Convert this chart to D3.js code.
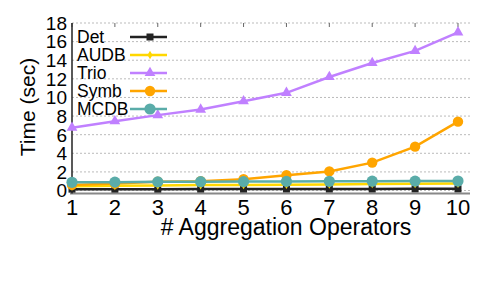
<!DOCTYPE html>
<html>
<head>
<meta charset="utf-8">
<script src="https://cdn.jsdelivr.net/npm/d3@7"></script>
<style>
  body { margin: 0; background: #fff; }
  text { font-family: "Liberation Sans", Arial, sans-serif; fill: #000; }
</style>
</head>
<body>
<script>
// data
var ops = [1, 2, 3, 4, 5, 6, 7, 8, 9, 10];
var det  = [0.15, 0.15, 0.15, 0.16, 0.16, 0.17, 0.17, 0.17, 0.18, 0.18];
var audb = [0.45, 0.5, 0.55, 0.58, 0.6, 0.63, 0.66, 0.7, 0.72, 0.75];
var trio = [6.75, 7.45, 8.1, 8.7, 9.6, 10.5, 12.2, 13.7, 15.0, 17.0];
var symb = [0.6, 0.75, 0.95, 1.0, 1.22, 1.65, 2.05, 3.0, 4.72, 7.4];
var mcdb = [0.88, 0.9, 0.93, 0.95, 0.96, 0.98, 0.99, 1.0, 1.01, 1.02];
var yTicks = [0, 2, 4, 6, 8, 10, 12, 14, 16, 18];

var series = [
  { name: "Det",  values: det,  color: "#222222", marker: "square" },
  { name: "AUDB", values: audb, color: "#ffd700", marker: "diamond" },
  { name: "Trio", values: trio, color: "#c080ff", marker: "triangle" },
  { name: "Symb", values: symb, color: "#ffa500", marker: "circle" },
  { name: "MCDB", values: mcdb, color: "#5aaca9", marker: "circle2" }
];

var W = 479, H = 297;
var mLeft = 72, mRight = 470, mTop = 23, mBottom = 193.5;

var svg = d3.select("body").append("svg")
    .attr("width", W)
    .attr("height", H);

var x = d3.scaleLinear().domain([1, 10.28]).range([mLeft, mRight]);
var y = d3.scaleLinear().domain([-0.32, 18]).range([mBottom, mTop]);

// grid lines
svg.append("g").selectAll("line")
    .data(yTicks)
    .join("line")
    .attr("x1", mLeft).attr("x2", mRight)
    .attr("y1", function(d) { return y(d); })
    .attr("y2", function(d) { return y(d); })
    .attr("stroke", "#bbbbbb")
    .attr("stroke-width", 1)
    .attr("stroke-dasharray", "2,2");

// top mirror ticks
svg.append("g").selectAll("line")
    .data(ops)
    .join("line")
    .attr("x1", function(d) { return x(d); })
    .attr("x2", function(d) { return x(d); })
    .attr("y1", mTop).attr("y2", mTop + 4)
    .attr("stroke", "#666")
    .attr("stroke-width", 1);

// axes lines
svg.append("line")
    .attr("x1", mLeft - 2).attr("x2", mRight)
    .attr("y1", mBottom).attr("y2", mBottom)
    .attr("stroke", "#888").attr("stroke-width", 2);
svg.append("line")
    .attr("x1", mLeft).attr("x2", mLeft)
    .attr("y1", mTop).attr("y2", mBottom)
    .attr("stroke", "#222").attr("stroke-width", 1.5);

// y tick labels
svg.append("g").selectAll("text")
    .data(yTicks)
    .join("text")
    .attr("x", mLeft - 5)
    .attr("y", function(d) { return y(d); })
    .attr("dy", "0.36em")
    .attr("text-anchor", "end")
    .attr("font-size", "19px")
    .text(function(d) { return d; });

// x tick labels
svg.append("g").selectAll("text")
    .data(ops)
    .join("text")
    .attr("x", function(d) { return x(d); })
    .attr("y", 215)
    .attr("text-anchor", "middle")
    .attr("font-size", "22px")
    .text(function(d) { return d; });

// axis titles
svg.append("text")
    .attr("x", 286).attr("y", 235)
    .attr("text-anchor", "middle")
    .attr("font-size", "23px")
    .text("# Aggregation Operators");

svg.append("text")
    .attr("transform", "translate(35,107) rotate(-90)")
    .attr("text-anchor", "middle")
    .attr("font-size", "21px")
    .text("Time (sec)");

function drawMarker(g, type, color, cx, cy) {
  if (type === "square") {
    g.append("rect").attr("x", cx - 3.5).attr("y", cy - 3.5)
      .attr("width", 7).attr("height", 7).attr("fill", color);
  } else if (type === "diamond") {
    g.append("path")
      .attr("d", d3.symbol().type(d3.symbolDiamond).size(22)())
      .attr("transform", "translate(" + cx + "," + cy + ")")
      .attr("fill", color);
  } else if (type === "triangle") {
    g.append("path")
      .attr("d", d3.symbol().type(d3.symbolTriangle).size(50)())
      .attr("transform", "translate(" + cx + "," + cy + ")")
      .attr("fill", color);
  } else if (type === "circle") {
    g.append("circle").attr("cx", cx).attr("cy", cy).attr("r", 5.2).attr("fill", color);
  } else {
    g.append("circle").attr("cx", cx).attr("cy", cy).attr("r", 5.6).attr("fill", color);
  }
}

var line = d3.line()
    .x(function(d, i) { return x(ops[i]); })
    .y(function(d) { return y(d); });

series.forEach(function(s) {
  var g = svg.append("g");
  g.append("path")
    .attr("d", line(s.values))
    .attr("fill", "none")
    .attr("stroke", s.color)
    .attr("stroke-width", 2.5);
  s.values.forEach(function(v, i) {
    drawMarker(g, s.marker, s.color, x(ops[i]), y(v));
  });
});

// legend
var leg = svg.append("g");
series.forEach(function(s, i) {
  var ly = 37 + i * 18;
  leg.append("text")
    .attr("x", 77).attr("y", ly)
    .attr("dy", "0.36em")
    .attr("font-size", "17.5px")
    .text(s.name);
  leg.append("line")
    .attr("x1", 130).attr("x2", 167)
    .attr("y1", ly).attr("y2", ly)
    .attr("stroke", s.color).attr("stroke-width", 2.5);
  drawMarker(leg, s.marker, s.color, 150, ly);
});
</script>
</body>
</html>
